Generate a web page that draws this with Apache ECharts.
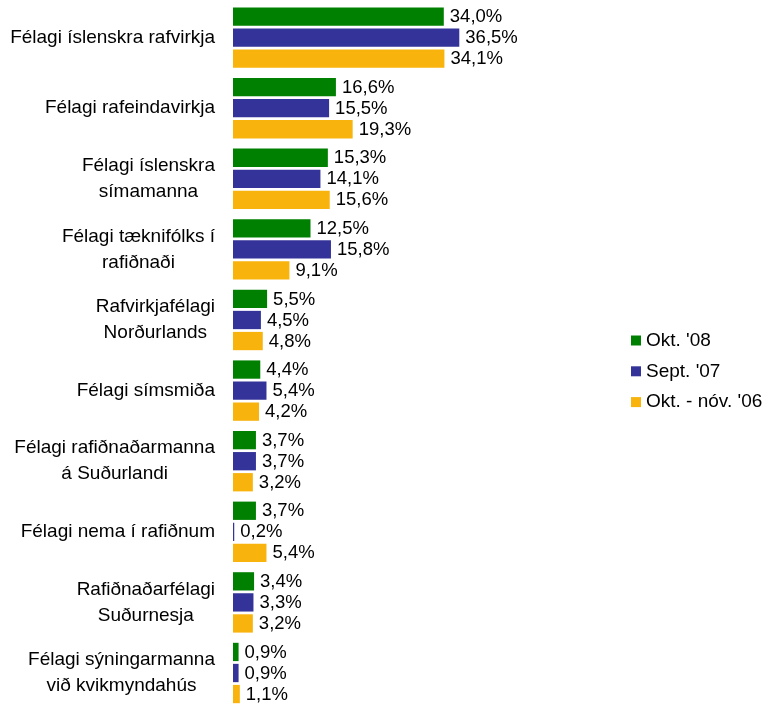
<!DOCTYPE html>
<html>
<head>
<meta charset="utf-8">
<script src="https://cdn.jsdelivr.net/npm/echarts@6/dist/echarts.min.js"></script>
<style>
  html, body { margin: 0; padding: 0; background: #fff; }
  #chart { width: 768px; height: 704px; }
</style>
</head>
<body>
<div id="chart"></div>
<script>
// flokkar, ofan frá og niður
var categories = [
    'Félagi íslenskra rafvirkja',
    'Félagi rafeindavirkja',
    'Félagi íslenskra\nsímamanna',
    'Félagi tæknifólks í\nrafiðnaði',
    'Rafvirkjafélagi\nNorðurlands',
    'Félagi símsmiða',
    'Félagi rafiðnaðarmanna\ná Suðurlandi',
    'Félagi nema í rafiðnum',
    'Rafiðnaðarfélagi\nSuðurnesja',
    'Félagi sýningarmanna\nvið kvikmyndahús'
];
var seriesNames = ["Okt. '08", "Sept. '07", "Okt. - nóv. '06"];
var okt08 = [34.0, 16.6, 15.3, 12.5, 5.5, 4.4, 3.7, 3.7, 3.4, 0.9];
var sept07 = [36.5, 15.5, 14.1, 15.8, 4.5, 5.4, 3.7, 0.2, 3.3, 0.9];
var okt06 = [34.1, 19.3, 15.6, 9.1, 4.8, 4.2, 3.2, 5.4, 3.2, 1.1];
var colors = ['#008000', '#333399', '#F8B30C'];

var font = 'Liberation Sans';

function pct(p) {
    return p.value.toFixed(1).replace('.', ',') + '%';
}

function makeSeries(name, data, color) {
    return {
        name: name,
        type: 'bar',
        data: data,
        barWidth: 18.3,
        barGap: '15%',
        itemStyle: {color: color},
        label: {
            show: true,
            position: 'right',
            distance: 6,
            offset: [0, 0.5],
            formatter: pct,
            color: '#000',
            fontSize: 18.5,
            fontFamily: font
        }
    };
}

var myChart = echarts.init(document.getElementById('chart'));
var option = {
    animation: false,
    color: colors,
    grid: {left: 233, top: 2.3, width: 248, height: 706, outerBoundsMode: 'none', containLabel: false},
    legend: {
        orient: 'vertical',
        left: 626,
        top: 326,
        icon: 'rect',
        itemWidth: 10,
        itemHeight: 10,
        itemGap: 11.8,
        textStyle: {color: '#000', fontSize: 19, fontFamily: font}
    },
    xAxis: {
        type: 'value',
        min: 0,
        max: 40,
        show: false
    },
    yAxis: {
        type: 'category',
        inverse: true,
        data: categories,
        axisLine: {show: false},
        axisTick: {show: false},
        axisLabel: {
            margin: 18,
            color: '#000',
            fontSize: 19,
            fontFamily: font,
            lineHeight: 26,
            // línur miðjaðar innbyrðis, blokkin hægrijöfnuð
            formatter: function (v) {
                return v.split('\n').map(function (s) { return '{c|' + s + '}'; }).join('\n');
            },
            rich: {
                c: {align: 'center', fontSize: 19, fontFamily: font, color: '#000', lineHeight: 26}
            }
        }
    },
    series: [
        makeSeries(seriesNames[0], okt08, colors[0]),
        makeSeries(seriesNames[1], sept07, colors[1]),
        makeSeries(seriesNames[2], okt06, colors[2])
    ]
};
myChart.setOption(option);
</script>
</body>
</html>
